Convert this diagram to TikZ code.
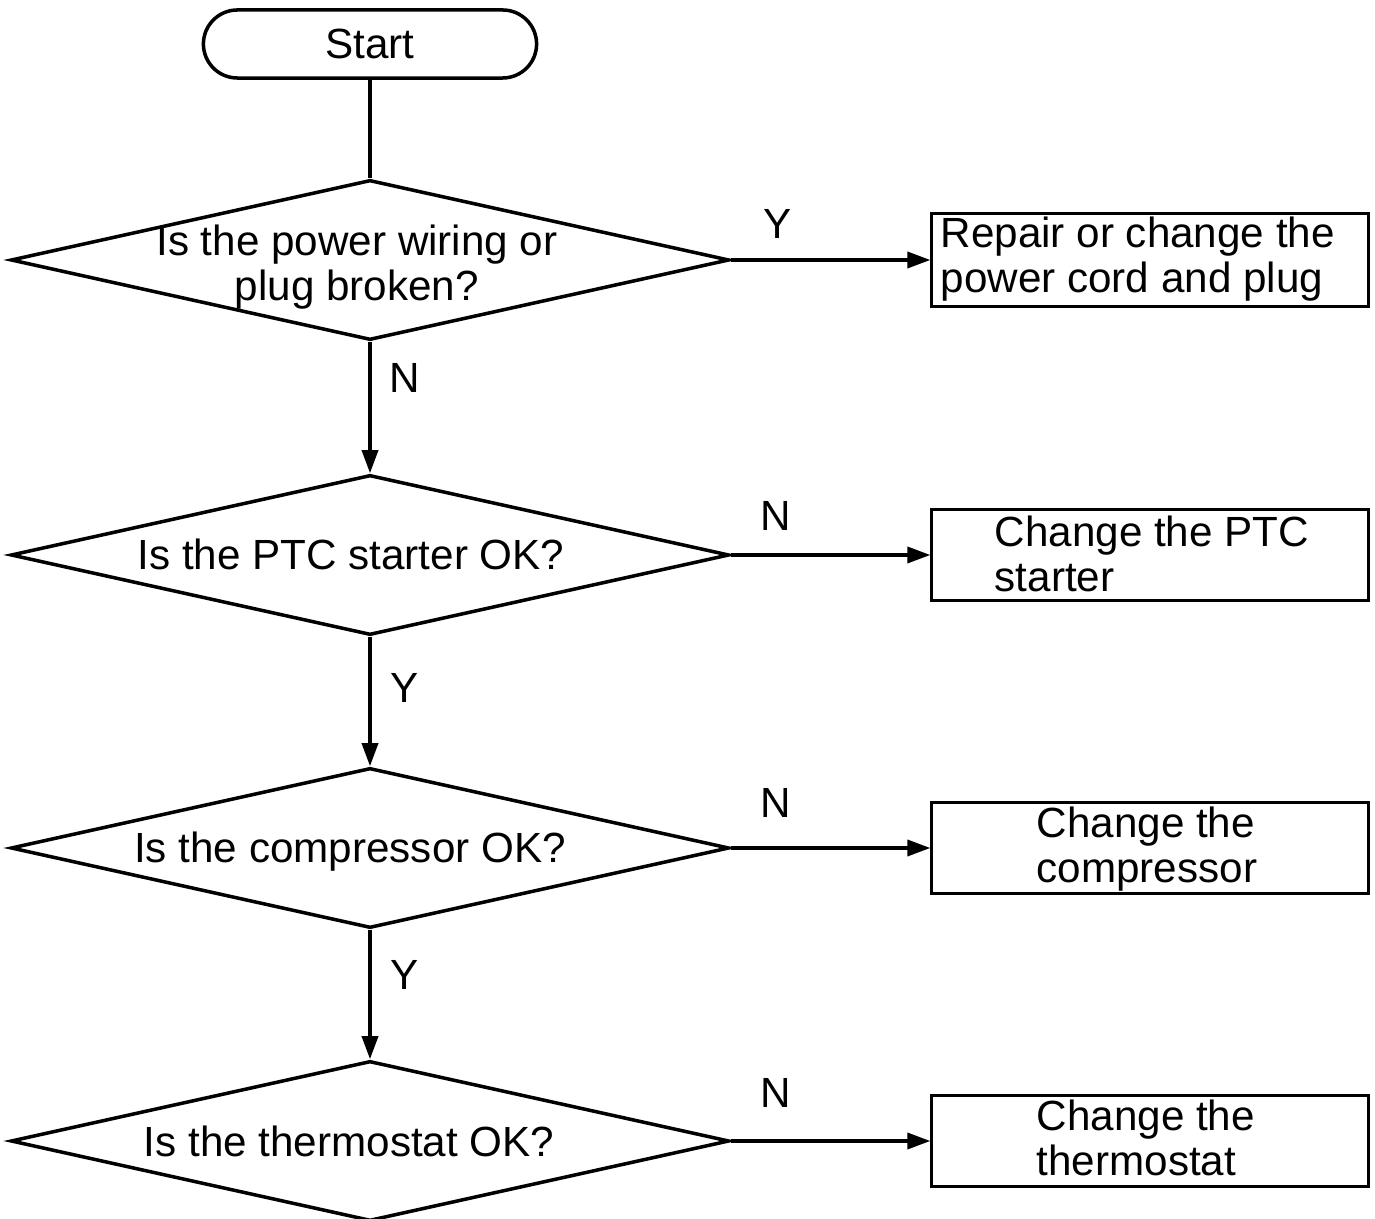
\documentclass[tikz,border=0pt]{standalone}
\usepackage{fontspec}
\setmainfont{Liberation Sans}
\usetikzlibrary{shapes.geometric,arrows.meta}
\begin{document}
\begin{tikzpicture}[x=0.01cm,y=-0.01cm,
  every node/.style={font=\fontsize{12pt}{13pt}\selectfont},
  line/.style={line width=1pt},
  flow/.style={line, -{Triangle[length=0.23cm,width=0.16cm]}},
  startbox/.style={draw, line width=1pt, rectangle, rounded corners=0.34cm,
    minimum width=3.33cm, minimum height=0.68cm, inner sep=0pt},
  decision/.style={draw, line width=1pt, diamond, minimum width=7.18cm,
    minimum height=1.6cm, inner sep=0pt},
  actionbox/.style={draw, line width=0.85pt, rectangle, minimum width=4.36cm,
    minimum height=0.9cm, inner sep=0pt},
  txt/.style={inner sep=0pt, align=left},
  qtxt/.style={inner sep=0pt, align=center},
  yn/.style={inner sep=0pt}
]
\useasboundingbox (0,0) rectangle (1375,1219);

% start terminal
\node[startbox] (start) at (370,44) {Start};

% decisions
\node[decision] (d1) at (370,260) {};
\node[decision] (d2) at (370,555) {};
\node[decision] (d3) at (370,848) {};
\node[decision] (d4) at (370,1141) {};

\node[qtxt] (q1) at (357,267) {Is the power wiring or\\plug broken?};
\node[qtxt, anchor=base] (q2) at (351,570) {Is the PTC starter OK?};
\node[qtxt, anchor=base] (q3) at (350,863) {Is the compressor OK?};
\node[qtxt, anchor=base] (q4) at (349,1157) {Is the thermostat OK?};

% actions
\node[actionbox, minimum height=0.92cm] (b1) at (1150,260) {};
\node[actionbox] (b2) at (1150,555) {};
\node[actionbox] (b3) at (1150,848) {};
\node[actionbox] (b4) at (1150,1141) {};

\node[txt, anchor=west] (a1) at (940,259) {Repair or change the\\power cord and plug};
\node[txt, anchor=west] (a2) at (994,554) {Change the PTC\\starter};
\node[txt, anchor=west] (a3) at (1036,849) {Change the\\compressor};
\node[txt, anchor=west] (a4) at (1036,1138) {Change the\\thermostat};

% connectors
\draw[line] (start.south) -- (d1.north);
\draw[flow] (d1.south) -- (d2.north);
\draw[flow] (d2.south) -- (d3.north);
\draw[flow] (d3.south) -- (d4.north);
\draw[flow] (d1.east) -- (b1.west);
\draw[flow] (d2.east) -- (b2.west);
\draw[flow] (d3.east) -- (b3.west);
\draw[flow] (d4.east) -- (b4.west);

% branch labels
\node[yn] (y1) at (778,224) {Y};
\node[yn] (n1) at (405,378) {N};
\node[yn] (n2) at (776,516) {N};
\node[yn] (y2) at (405,688) {Y};
\node[yn] (n3) at (776,803) {N};
\node[yn] (y3) at (405,975) {Y};
\node[yn] (n4) at (776,1093) {N};
\end{tikzpicture}
\end{document}
